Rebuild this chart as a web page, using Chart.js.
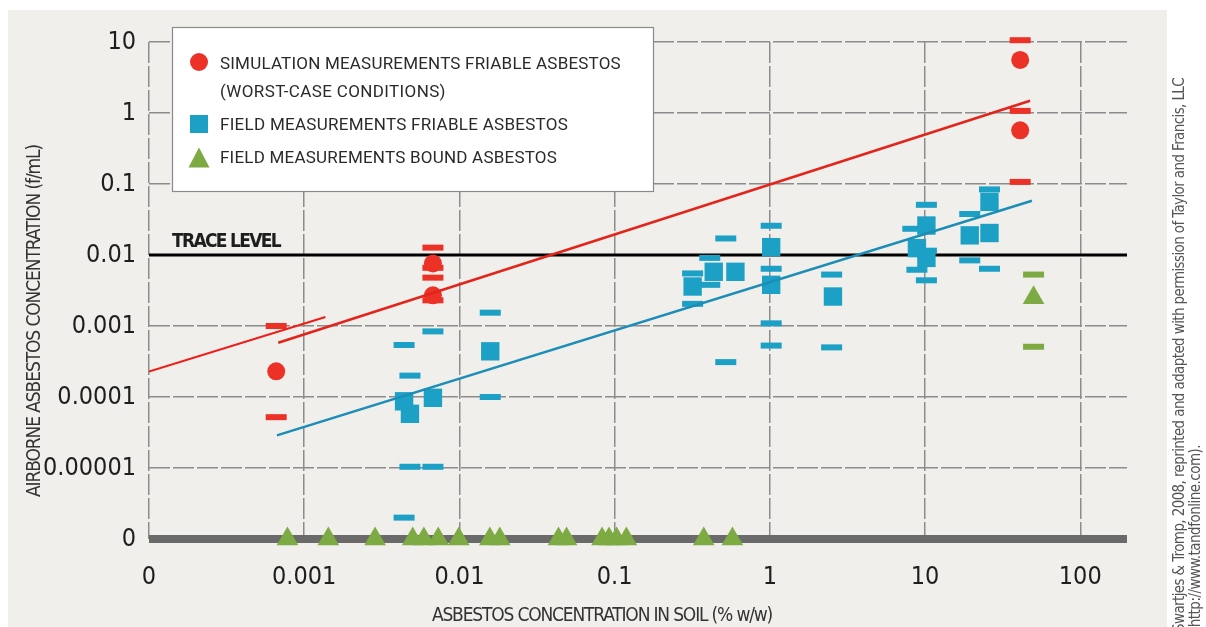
<!DOCTYPE html>
<html>
<head>
<meta charset="utf-8">
<title>Airborne asbestos vs soil concentration</title>
<script src="https://cdn.jsdelivr.net/npm/chart.js@4.4.1/dist/chart.umd.min.js"></script>
<style>
  html, body { margin: 0; padding: 0; background: #fff; }
  #wrap { width: 1206px; height: 627px; }
</style>
</head>
<body>
<div id="wrap"><canvas id="chart" width="1206" height="627"></canvas></div>
<script>
/* ── Values (0 = the "0" row / column) ───────────────────────────── */
const X_ZERO = 1e-4;      // the "0" column of the soil axis sits one decade below 0.001
const Y_ZERO = 1e-6;      // the "0" row of the airborne axis sits one decade below 0.00001
const X_MAX = 200;
const Y_MAX = 10;
const TRACE_LEVEL = 0.01;

const xTickValues = [1e-4, 1e-3, 1e-2, 1e-1, 1, 10, 100];
const xTickLabels = ['0', '0.001', '0.01', '0.1', '1', '10', '100'];
const yTickValues = [1e-6, 1e-5, 1e-4, 1e-3, 1e-2, 1e-1, 1, 10];
const yTickLabels = ['0', '0.00001', '0.0001', '0.001', '0.01', '0.1', '1', '10'];

// simulation measurements, friable asbestos (red): circles + range dashes
const simX = [0.00066, 0.00675, 0.00675, 41, 41];
const simY = [0.00023, 0.0076, 0.0027, 5.6, 0.57];
const simRangeX = [0.00066, 0.00066, 0.00675, 0.00675, 0.00675, 0.00675, 41, 41, 41];
const simRangeY = [0.001, 0.000052, 0.0127, 0.0066, 0.0048, 0.0023, 10.6, 1.07, 0.107];

// field measurements, friable asbestos (blue): squares + range dashes
const friableX = [0.0044, 0.0048, 0.00675, 0.0158, 0.318, 0.435, 0.6, 1.02, 1.02, 2.55, 10.2, 8.86, 10.2, 19.4, 26, 26];
const friableY = [0.000087, 0.000058, 0.0000975, 0.00044, 0.0036, 0.0058, 0.0058, 0.0129, 0.0038, 0.0026, 0.026, 0.0125, 0.0091, 0.0189, 0.0204, 0.056];
const friableRangeX = [0.0044, 0.0044, 0.0048, 0.0048, 0.00675, 0.00675, 0.0158, 0.0158,
  0.318, 0.318, 0.41, 0.41, 0.52, 0.52, 1.02, 1.02, 1.02, 1.02, 2.5, 2.5,
  8.34, 10.2, 8.86, 10.2, 10.2, 19.4, 26, 19.4, 26];
const friableRangeY = [0.00054, 0.000002, 0.0002, 0.0000104, 0.00084, 0.0000104, 0.00154, 0.0001,
  0.0055, 0.00205, 0.0091, 0.0038, 0.0171, 0.00031, 0.0258, 0.0064, 0.00109, 0.00053, 0.0053, 0.0005,
  0.0234, 0.0509, 0.0062, 0.0044, 0.0115, 0.0378, 0.084, 0.0084, 0.0064];

// field measurements, bound asbestos (green): triangles + range dashes
const boundX = [0.00078, 0.00143, 0.00286, 0.005, 0.0059, 0.0073, 0.0099, 0.0157, 0.0182,
  0.0435, 0.049, 0.083, 0.092, 0.103, 0.119, 0.375, 0.574, 50];
const boundY = [0, 0, 0, 0, 0, 0, 0, 0, 0, 0, 0, 0, 0, 0, 0, 0, 0, 0.0025];
const boundRangeX = [50, 50];
const boundRangeY = [0.0053, 0.00051];

// regression lines
const simFit1X = [0, 0.00137];
const simFit1Y = [0.000228, 0.00134];
const simFit2X = [0.00068, 47.5];
const simFit2Y = [0.00058, 1.49];
const fieldFitX = [0.000667, 48.8];
const fieldFitY = [0.0000288, 0.058];

const legendLabels = [
  ['SIMULATION MEASUREMENTS FRIABLE ASBESTOS', '(WORST-CASE CONDITIONS)'],
  ['FIELD MEASUREMENTS FRIABLE ASBESTOS'],
  ['FIELD MEASUREMENTS BOUND ASBESTOS']
];
const xTitle = 'ASBESTOS CONCENTRATION IN SOIL (% w/w)';
const yTitle = 'AIRBORNE ASBESTOS CONCENTRATION (f/mL)';
const traceLabel = 'TRACE LEVEL';
const credit = [
  'Swartjes & Tromp, 2008, reprinted and adapted with permission of Taylor and Francis, LLC',
  '(http://www.tandfonline.com).'
];

/* ── Styling ─────────────────────────────────────────────── */
const RED = '#ec3127', RED_LINE = '#e3241b', BLUE = '#1ca0c6', BLUE_LINE = '#1c8db6', GREEN = '#7eaa43';
const NARROW = "'Liberation Sans Narrow', 'DejaVu Sans Condensed', 'Roboto', sans-serif";
const GRID = '#8c8c8c';

const toPlot = (xs, ys) => xs.map((x, i) => ({
  x: x === 0 ? X_ZERO : x,
  y: ys[i] === 0 ? Y_ZERO : ys[i]
}));

function fitLine(label, xs, ys, color, width) {
  return { label, data: toPlot(xs, ys), showLine: true, borderColor: color, borderWidth: width,
           pointRadius: 0, fill: false };
}
function marks(label, xs, ys, style, radius, color) {
  return { label, data: toPlot(xs, ys), pointStyle: style, pointRadius: radius, clip: false,
           pointBackgroundColor: color, pointBorderColor: color, pointBorderWidth: 0 };
}
function dashes(label, xs, ys, color) {
  return { label, data: toPlot(xs, ys), pointStyle: 'line', pointRadius: 10.5, clip: false,
           pointBorderWidth: 6, pointBorderColor: color, pointBackgroundColor: color };
}

/* ── Panel, legend box and free texts ─────────────────────── */
function fitText(ctx, text, width) {
  ctx.letterSpacing = '0px';
  const w = ctx.measureText(text).width;
  const ls = (width - w) / text.length;
  ctx.letterSpacing = ls.toFixed(2) + 'px';
}

const decor = {
  id: 'decor',
  beforeDraw(chart) {
    const { ctx, width, height } = chart;
    ctx.save();
    ctx.fillStyle = '#fff';
    ctx.fillRect(0, 0, width, height);
    ctx.fillStyle = '#f0efeb';
    ctx.fillRect(8, 10, 1159, 617);
    ctx.restore();
  },
  afterDraw(chart) {
    const { ctx } = chart;
    ctx.save();

    // legend box
    ctx.fillStyle = '#fff';
    ctx.fillRect(172, 27, 482, 165);
    ctx.strokeStyle = '#8a8a8a';
    ctx.lineWidth = 1.2;
    ctx.strokeRect(172.5, 27.5, 481, 164);

    ctx.fillStyle = RED;
    ctx.beginPath(); ctx.arc(199, 62, 9, 0, Math.PI * 2); ctx.fill();
    ctx.fillStyle = BLUE;
    ctx.fillRect(190, 115, 18, 18);
    ctx.fillStyle = GREEN;
    ctx.beginPath(); ctx.moveTo(199, 147.5); ctx.lineTo(209.5, 167.5); ctx.lineTo(188.5, 167.5); ctx.closePath(); ctx.fill();

    ctx.fillStyle = '#2a2a2a';
    ctx.font = "17px Roboto, 'Open Sans', sans-serif";
    ctx.textAlign = 'left';
    ctx.textBaseline = 'alphabetic';
    const rows = [
      [legendLabels[0][0], 68.5, 401], [legendLabels[0][1], 97.3, 226],
      [legendLabels[1][0], 130, 348], [legendLabels[2][0], 163.3, 337]
    ];
    rows.forEach(([t, y, w]) => { fitText(ctx, t, w); ctx.fillText(t, 220, y); });

    // trace level label
    ctx.fillStyle = '#1e1e1e';
    ctx.font = 'bold 19px ' + NARROW;
    fitText(ctx, traceLabel, 108);
    ctx.fillText(traceLabel, 172, 247);

    // axis titles
    ctx.fillStyle = '#333';
    ctx.font = '19px ' + NARROW;
    ctx.textAlign = 'center';
    fitText(ctx, xTitle, 340);
    ctx.fillText(xTitle, 602, 621);

    ctx.save();
    ctx.translate(40, 321);
    ctx.rotate(-Math.PI / 2);
    fitText(ctx, yTitle, 352);
    ctx.fillText(yTitle, 0, 0);
    ctx.restore();

    // source credit, outside the panel
    ctx.fillStyle = '#555';
    ctx.font = '15px ' + NARROW;
    ctx.textAlign = 'left';
    [[credit[0], 1184, 554], [credit[1], 1200, 187]].forEach(([t, x, w]) => {
      ctx.save();
      ctx.translate(x, 632);
      ctx.rotate(-Math.PI / 2);
      fitText(ctx, t, w);
      ctx.fillText(t, 0, 0);
      ctx.restore();
    });

    ctx.restore();
  }
};

/* ── Chart ───────────────────────────────────────────────── */
const tickFont = { family: NARROW, size: 25, lineHeight: 1.2 };

new Chart(document.getElementById('chart'), {
  type: 'scatter',
  data: {
    datasets: [
      fitLine('Simulation fit (low)', simFit1X, simFit1Y, '#f01c17', 2),
      fitLine('Simulation fit', simFit2X, simFit2Y, RED_LINE, 2.5),
      fitLine('Field fit', fieldFitX, fieldFitY, BLUE_LINE, 2.5),
      marks('Simulation measurements friable asbestos', simX, simY, 'circle', 9, RED),
      dashes('Simulation range', simRangeX, simRangeY, RED),
      marks('Field measurements friable asbestos', friableX, friableY, 'rect', 13, BLUE),
      dashes('Field friable range', friableRangeX, friableRangeY, BLUE),
      marks('Field measurements bound asbestos', boundX, boundY, 'triangle', 12.5, GREEN),
      dashes('Field bound range', boundRangeX, boundRangeY, GREEN),
      fitLine('Trace level', [0, X_MAX], [TRACE_LEVEL, TRACE_LEVEL], '#000', 3)
    ]
  },
  options: {
    responsive: false,
    animation: false,
    events: [],
    layout: { padding: { left: 0, top: 42, right: 79, bottom: 0 } },
    plugins: { legend: { display: false }, tooltip: { enabled: false } },
    scales: {
      x: {
        type: 'logarithmic',
        min: X_ZERO, max: X_MAX,
        afterBuildTicks: s => { s.ticks = xTickValues.map(v => ({ value: v })); },
        afterFit: s => { s.height = 88; },
        ticks: { callback: (v, i) => xTickLabels[i], font: tickFont, color: '#1e1e1e',
                 padding: 23, autoSkip: false, maxRotation: 0 },
        grid: { color: GRID, lineWidth: 1.5, drawTicks: false },
        border: { display: false, dash: [21, 3] }
      },
      y: {
        type: 'logarithmic',
        min: Y_ZERO, max: Y_MAX,
        afterBuildTicks: s => { s.ticks = yTickValues.map(v => ({ value: v })); },
        afterFit: s => { s.width = 149; },
        ticks: { callback: (v, i) => yTickLabels[i], font: tickFont, color: '#1e1e1e',
                 padding: 13, autoSkip: false },
        grid: {
          drawTicks: false,
          color: c => (c.tick && c.tick.value === Y_ZERO) ? '#6a6a6a' : GRID,
          lineWidth: c => (c.tick && c.tick.value === Y_ZERO) ? 8 : 1.5
        },
        border: { display: false, dash: c => (c.tick && c.tick.value === Y_ZERO) ? [] : [21, 3] }
      }
    }
  },
  plugins: [decor]
});
</script>
</body>
</html>
